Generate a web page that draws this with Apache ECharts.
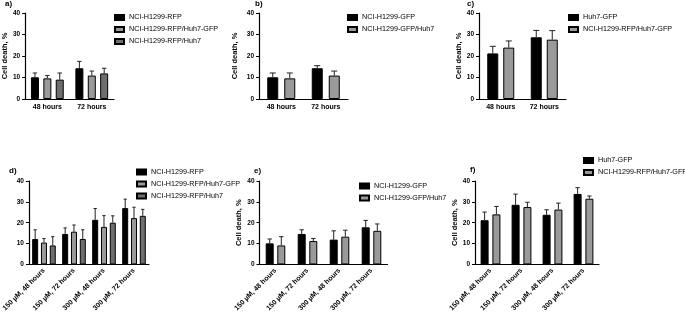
<!DOCTYPE html>
<html>
<head>
<meta charset="utf-8">
<script src="https://cdn.jsdelivr.net/npm/echarts@6/dist/echarts.min.js"></script>
<style>
  html, body { margin: 0; padding: 0; background: #fff; }
  #chart { width: 685px; height: 314px; }
</style>
</head>
<body>
<div id="chart"></div>
<script>
// categories
const timeCats = ['48 hours', '72 hours'];
const doseCats = ['150 µM, 48 hours', '150 µM, 72 hours', '300 µM, 48 hours', '300 µM, 72 hours'];

// a) NCI-H1299-RFP based co-cultures
const aRfp = [10.1, 14.3];
const aRfpErr = [2.0, 3.2];
const aRfpHuhGfp = [9.6, 10.9];
const aRfpHuhGfpErr = [1.3, 2.1];
const aRfpHuh = [9.0, 11.9];
const aRfpHuhErr = [3.1, 2.4];

// b)
const bGfp = [10.1, 14.3];
const bGfpErr = [2.0, 1.2];
const bGfpHuh = [9.6, 10.9];
const bGfpHuhErr = [2.5, 2.1];

// c)
const cHuhGfp = [21.2, 28.7];
const cHuhGfpErr = [3.3, 3.2];
const cRfpHuhGfp = [23.9, 27.6];
const cRfpHuhGfpErr = [3.1, 4.2];

// d)
const dRfp = [12.2, 14.6, 21.4, 27.0];
const dRfpErr = [4.4, 2.9, 5.4, 4.3];
const dRfpHuhGfp = [10.5, 15.7, 18.0, 22.2];
const dRfpHuhGfpErr = [1.9, 3.2, 5.4, 5.2];
const dRfpHuh = [9.1, 12.2, 20.0, 23.3];
const dRfpHuhErr = [4.2, 4.4, 3.3, 3.1];

// e)
const eGfp = [10.1, 14.6, 11.9, 17.8];
const eGfpErr = [2.1, 2.0, 4.2, 3.3];
const eGfpHuh = [9.1, 11.2, 13.3, 16.1];
const eGfpHuhErr = [4.2, 1.2, 3.1, 3.3];

// f)
const fHuhGfp = [21.2, 28.6, 23.8, 33.8];
const fHuhGfpErr = [3.9, 5.1, 2.4, 3.0];
const fRfpHuhGfp = [24.0, 27.5, 26.3, 31.5];
const fRfpHuhGfpErr = [3.8, 2.3, 3.1, 1.3];

const BLACK = '#000000', GRAY = '#9a9a9a', DARK = '#6e6e6e';
const FONT = 'Liberation Sans, Arial, sans-serif';

const panels = [
  { tag: 'a)', tagPos: [5, 0], grid: { left: 25, top: 13, width: 89, height: 86 }, cats: timeCats, rotate: 0,
    bw: 8, gap: 4.4, yName: 'Cell death, %', nameGap: 13, legend: { left: 114, top: 14 },
    series: [
      { name: 'NCI-H1299-RFP', color: BLACK, v: aRfp, e: aRfpErr },
      { name: 'NCI-H1299-RFP/Huh7-GFP', color: GRAY, v: aRfpHuhGfp, e: aRfpHuhGfpErr },
      { name: 'NCI-H1299-RFP/Huh7', color: DARK, v: aRfpHuh, e: aRfpHuhErr }
    ] },
  { tag: 'b)', tagPos: [255, 0], grid: { left: 259, top: 13, width: 89, height: 86 }, cats: timeCats, rotate: 0,
    bw: 11, gap: 6, yName: 'Cell death, %', nameGap: 20, legend: { left: 347, top: 14 },
    series: [
      { name: 'NCI-H1299-GFP', color: BLACK, v: bGfp, e: bGfpErr },
      { name: 'NCI-H1299-GFP/Huh7', color: GRAY, v: bGfpHuh, e: bGfpHuhErr }
    ] },
  { tag: 'c)', tagPos: [467, 0], grid: { left: 479, top: 13, width: 87, height: 86 }, cats: timeCats, rotate: 0,
    bw: 11, gap: 5, yName: 'Cell death, %', nameGap: 13.5, legend: { left: 568, top: 14 },
    series: [
      { name: 'Huh7-GFP', color: BLACK, v: cHuhGfp, e: cHuhGfpErr },
      { name: 'NCI-H1299-RFP/Huh7-GFP', color: GRAY, v: cRfpHuhGfp, e: cRfpHuhGfpErr }
    ] },
  { tag: 'd)', tagPos: [9, 167], grid: { left: 24, top: 181, width: 125, height: 86 }, cats: doseCats, rotate: 45,
    bw: 6, gap: 2.8, yName: '', nameGap: 13, legend: { left: 136, top: 168.5 },
    series: [
      { name: 'NCI-H1299-RFP', color: BLACK, v: dRfp, e: dRfpErr },
      { name: 'NCI-H1299-RFP/Huh7-GFP', color: GRAY, v: dRfpHuhGfp, e: dRfpHuhGfpErr },
      { name: 'NCI-H1299-RFP/Huh7', color: DARK, v: dRfpHuh, e: dRfpHuhErr }
    ] },
  { tag: 'e)', tagPos: [254, 167], grid: { left: 259.5, top: 181, width: 128, height: 86 }, cats: doseCats, rotate: 45,
    bw: 8, gap: 3.6, yName: 'Cell death, %', nameGap: 12.5, legend: { left: 359, top: 182.5 },
    series: [
      { name: 'NCI-H1299-GFP', color: BLACK, v: eGfp, e: eGfpErr },
      { name: 'NCI-H1299-GFP/Huh7', color: GRAY, v: eGfpHuh, e: eGfpHuhErr }
    ] },
  { tag: 'f)', tagPos: [470, 166], grid: { left: 475, top: 181, width: 124, height: 86 }, cats: doseCats, rotate: 45,
    bw: 8, gap: 3.8, yName: 'Cell death, %', nameGap: 12, legend: { left: 583, top: 157 },
    series: [
      { name: 'Huh7-GFP', color: BLACK, v: fHuhGfp, e: fHuhGfpErr },
      { name: 'NCI-H1299-RFP/Huh7-GFP', color: GRAY, v: fRfpHuhGfp, e: fRfpHuhGfpErr }
    ] }
];

const grids = [], xAxes = [], yAxes = [], series = [], legends = [], graphics = [];

panels.forEach((p, pi) => {
  grids.push(Object.assign({ containLabel: false }, p.grid));
  xAxes.push({
    type: 'category', gridIndex: pi, data: p.cats,
    axisLine: { lineStyle: { color: '#000', width: 1.2 } },
    axisTick: { alignWithLabel: true, length: 3, lineStyle: { color: '#000' } },
    axisLabel: { color: '#000', fontFamily: FONT, fontWeight: 'bold', fontSize: 7, margin: 5, rotate: p.rotate, interval: 0 }
  });
  yAxes.push({
    type: 'value', gridIndex: pi, min: 0, max: 40, interval: 10,
    name: p.yName, nameLocation: 'middle', nameGap: p.nameGap,
    nameTextStyle: { color: '#000', fontFamily: FONT, fontWeight: 'bold', fontSize: 7.5 },
    axisLine: { show: true, lineStyle: { color: '#000', width: 1.2 } },
    axisTick: { show: true, length: 3, lineStyle: { color: '#000' } },
    splitLine: { show: false },
    axisLabel: { color: '#000', fontFamily: FONT, fontWeight: 'bold', fontSize: 6.5, margin: 5 }
  });
  const n = p.series.length;
  p.series.forEach((s, si) => {
    series.push({
      type: 'bar', name: s.name, xAxisIndex: pi, yAxisIndex: pi,
      data: s.v, barWidth: p.bw, barGap: (p.gap / p.bw * 100) + '%',
      itemStyle: { color: s.color, borderColor: '#000', borderWidth: 1 },
      emphasis: { disabled: true }
    });
    // one-sided SD bars, shifted to sit on their bar in the group
    const offset = (si - (n - 1) / 2) * (p.bw + p.gap);
    const cap = p.bw * 0.55;
    series.push({
      type: 'custom', name: s.name + ' SD', xAxisIndex: pi, yAxisIndex: pi, z: 3,
      data: s.v.map((v, i) => [i, v, v + s.e[i]]),
      renderItem: (params, api) => {
        const lo = api.coord([api.value(0), api.value(1)]);
        const hi = api.coord([api.value(0), api.value(2)]);
        const x = lo[0] + offset;
        const st = { stroke: '#222', lineWidth: 1 };
        return { type: 'group', children: [
          { type: 'line', shape: { x1: x, y1: lo[1], x2: x, y2: hi[1] }, style: st },
          { type: 'line', shape: { x1: x - cap / 2, y1: hi[1], x2: x + cap / 2, y2: hi[1] }, style: st }
        ] };
      }
    });
  });
  legends.push({
    orient: 'vertical', left: p.legend.left, top: p.legend.top, itemGap: 5, padding: 0,
    itemWidth: 9, itemHeight: 5, icon: 'rect', selectedMode: false,
    data: p.series.map(s => s.name),
    textStyle: { color: '#000', fontFamily: FONT, fontSize: 7.2 }
  });
  graphics.push({
    type: 'text', left: p.tagPos[0], top: p.tagPos[1],
    style: { text: p.tag, fill: '#000', font: 'bold 8px ' + FONT }
  });
});

const chart = echarts.init(document.getElementById('chart'), null, { renderer: 'canvas' });
chart.setOption({
  animation: false,
  backgroundColor: '#fff',
  grid: grids, xAxis: xAxes, yAxis: yAxes, series: series, legend: legends, graphic: graphics
});
</script>
</body>
</html>
